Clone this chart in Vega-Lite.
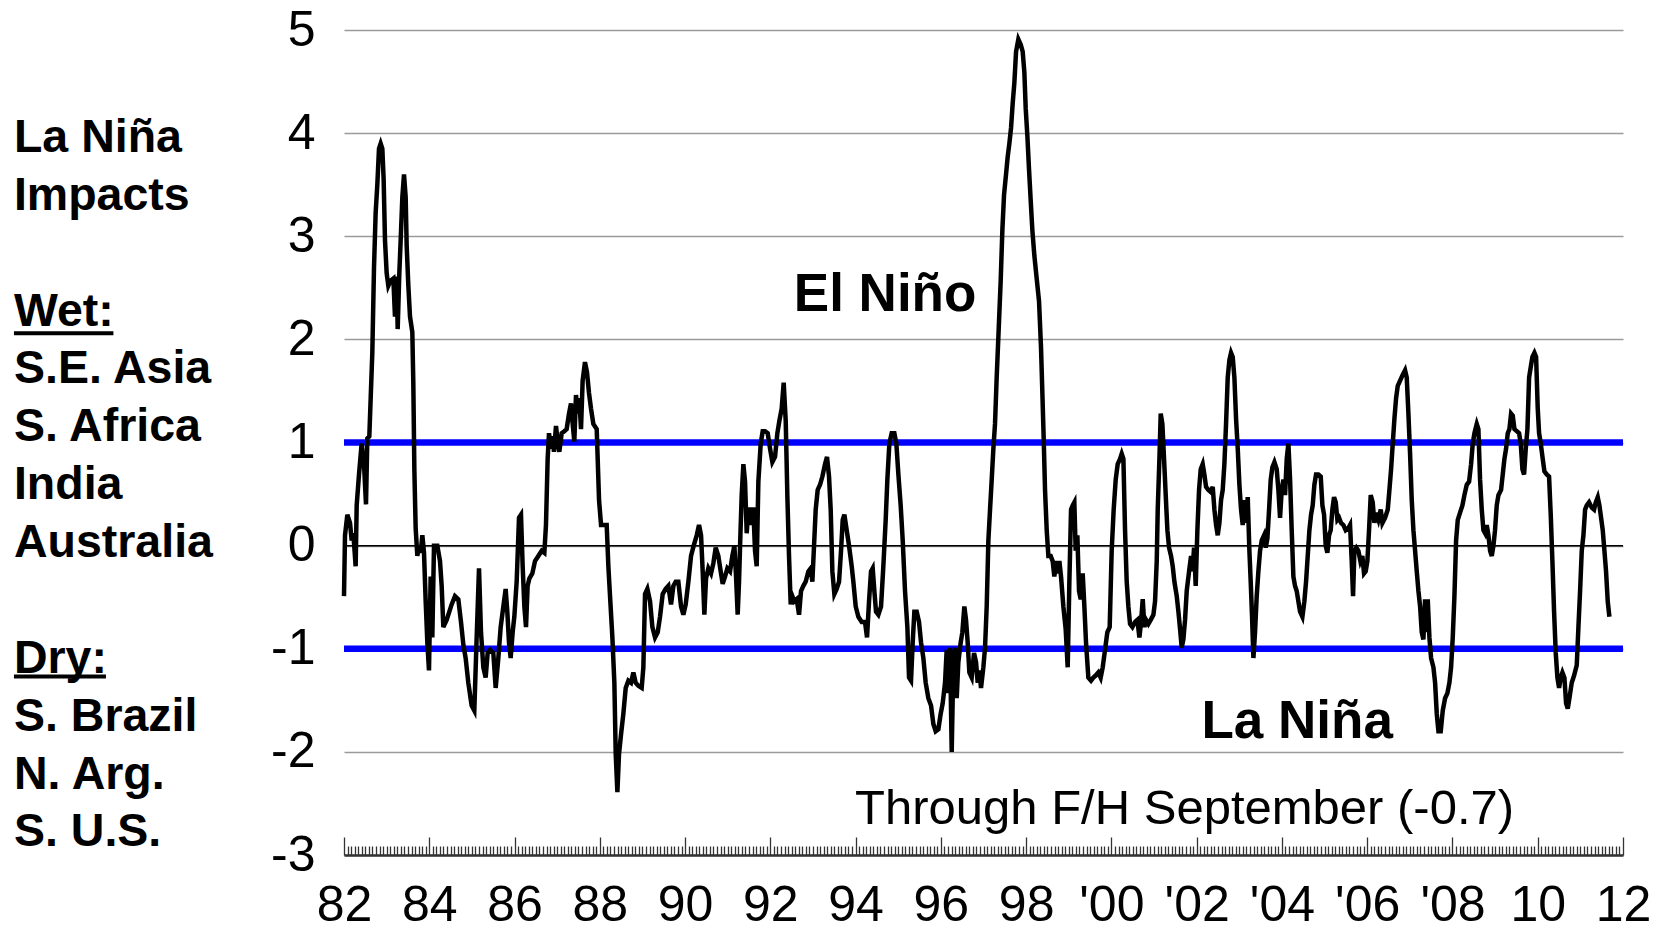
{
  "$schema": "https://vega.github.io/schema/vega-lite/v6.json",
  "width": 1279,
  "height": 825,
  "autosize": {"type": "none"},
  "padding": {"left": 344, "top": 30, "right": 36, "bottom": 73},
  "background": "white",
  "config": {"view": {"stroke": null}, "font": "Liberation Sans"},
  "datasets": {
    "series": [
      {"m":0,"v":-0.49},{"m":0.28,"v":0.1},{"m":0.94,"v":0.3},{"m":1.69,"v":0.22},{"m":2.16,"v":0.05},{"m":2.63,"v":0.12},{"m":3.28,"v":-0.2},{"m":3.57,"v":0.39},{"m":4.22,"v":0.69},{"m":4.97,"v":0.99},{"m":5.63,"v":0.79},{"m":6.19,"v":0.4},{"m":6.57,"v":1.04},{"m":7.13,"v":1.06},{"m":7.51,"v":1.43},{"m":7.97,"v":1.87},{"m":8.44,"v":2.69},{"m":8.91,"v":3.23},{"m":9.38,"v":3.5},{"m":9.85,"v":3.85},{"m":10.32,"v":3.9},{"m":10.79,"v":3.85},{"m":11.16,"v":3.55},{"m":11.54,"v":2.96},{"m":12.01,"v":2.64},{"m":12.48,"v":2.52},{"m":13.13,"v":2.57},{"m":13.89,"v":2.59},{"m":14.35,"v":2.22},{"m":14.82,"v":2.61},{"m":15.11,"v":2.1},{"m":15.57,"v":2.64},{"m":15.95,"v":2.96},{"m":16.42,"v":3.38},{"m":16.89,"v":3.6},{"m":17.36,"v":3.38},{"m":17.64,"v":2.91},{"m":18.11,"v":2.52},{"m":18.58,"v":2.22},{"m":19.23,"v":2.07},{"m":19.51,"v":1.58},{"m":19.8,"v":0.74},{"m":20.17,"v":0.17},{"m":20.64,"v":-0.1},{"m":21.11,"v":0},{"m":21.58,"v":-0.07},{"m":22.05,"v":0.1},{"m":22.52,"v":-0.07},{"m":22.99,"v":-0.54},{"m":23.46,"v":-0.94},{"m":23.92,"v":-1.21},{"m":24.39,"v":-0.3},{"m":24.86,"v":-0.89},{"m":25.33,"v":0},{"m":26.27,"v":0},{"m":27.02,"v":-0.15},{"m":27.49,"v":-0.39},{"m":27.96,"v":-0.79},{"m":28.9,"v":-0.72},{"m":30.3,"v":-0.57},{"m":31.24,"v":-0.49},{"m":32.18,"v":-0.52},{"m":32.93,"v":-0.74},{"m":33.59,"v":-0.96},{"m":34.24,"v":-1.09},{"m":34.99,"v":-1.33},{"m":35.93,"v":-1.55},{"m":36.68,"v":-1.6},{"m":37.34,"v":-0.89},{"m":38.0,"v":-0.22},{"m":38.56,"v":-0.84},{"m":39.22,"v":-1.18},{"m":39.87,"v":-1.28},{"m":40.44,"v":-1.04},{"m":41.09,"v":-1.01},{"m":42.03,"v":-1.04},{"m":42.69,"v":-1.38},{"m":43.44,"v":-1.09},{"m":44.1,"v":-0.79},{"m":44.85,"v":-0.59},{"m":45.5,"v":-0.42},{"m":45.97,"v":-0.64},{"m":46.44,"v":-0.94},{"m":46.91,"v":-1.09},{"m":47.47,"v":-0.84},{"m":47.94,"v":-0.69},{"m":48.6,"v":-0.35},{"m":49.26,"v":0.27},{"m":49.82,"v":0.3},{"m":50.29,"v":-0.2},{"m":50.76,"v":-0.59},{"m":51.23,"v":-0.79},{"m":51.69,"v":-0.39},{"m":52.16,"v":-0.32},{"m":53.01,"v":-0.27},{"m":53.76,"v":-0.15},{"m":54.7,"v":-0.1},{"m":55.64,"v":-0.05},{"m":56.39,"v":-0.07},{"m":56.85,"v":0.2},{"m":57.32,"v":0.84},{"m":57.7,"v":1.09},{"m":58.26,"v":0.94},{"m":58.64,"v":1.06},{"m":59.11,"v":0.91},{"m":59.67,"v":1.16},{"m":60.14,"v":1.01},{"m":60.61,"v":0.91},{"m":61.27,"v":1.09},{"m":62.02,"v":1.11},{"m":62.67,"v":1.13},{"m":63.33,"v":1.28},{"m":63.89,"v":1.38},{"m":64.36,"v":1.18},{"m":64.83,"v":1.01},{"m":65.3,"v":1.46},{"m":65.77,"v":1.28},{"m":66.24,"v":1.43},{"m":66.71,"v":1.13},{"m":67.17,"v":1.6},{"m":67.83,"v":1.78},{"m":68.4,"v":1.68},{"m":68.96,"v":1.48},{"m":69.52,"v":1.33},{"m":70.18,"v":1.18},
      {"m":71.13,"v":1.13},{"m":71.79,"v":0.44},{"m":72.35,"v":0.2},{"m":73.94,"v":0.2},{"m":74.41,"v":-0.2},{"m":74.88,"v":-0.49},{"m":75.54,"v":-0.89},{"m":76.1,"v":-1.33},{"m":76.48,"v":-2.02},{"m":76.95,"v":-2.39},{"m":77.41,"v":-2.02},{"m":77.98,"v":-1.83},{"m":78.63,"v":-1.63},{"m":79.29,"v":-1.38},{"m":80.04,"v":-1.31},{"m":80.79,"v":-1.33},{"m":81.45,"v":-1.23},{"m":82.1,"v":-1.33},{"m":82.86,"v":-1.36},{"m":83.79,"v":-1.38},{"m":84.26,"v":-1.18},{"m":84.73,"v":-0.47},{"m":85.39,"v":-0.42},{"m":86.14,"v":-0.54},{"m":86.8,"v":-0.79},{"m":87.55,"v":-0.89},{"m":88.3,"v":-0.84},{"m":88.95,"v":-0.69},{"m":89.7,"v":-0.47},{"m":90.55,"v":-0.42},{"m":91.3,"v":-0.39},{"m":92.05,"v":-0.57},{"m":92.71,"v":-0.39},{"m":93.36,"v":-0.35},{"m":94.11,"v":-0.35},{"m":94.87,"v":-0.59},{"m":95.52,"v":-0.67},{"m":96.18,"v":-0.57},{"m":96.93,"v":-0.35},{"m":97.68,"v":-0.1},{"m":98.43,"v":0},{"m":99.28,"v":0.1},{"m":99.93,"v":0.2},{"m":100.5,"v":0.1},{"m":100.96,"v":-0.25},{"m":101.43,"v":-0.67},{"m":101.9,"v":-0.32},{"m":102.56,"v":-0.22},{"m":103.31,"v":-0.27},{"m":103.97,"v":-0.17},{"m":104.62,"v":-0.02},{"m":105.37,"v":-0.1},{"m":106.03,"v":-0.25},{"m":106.59,"v":-0.37},{"m":107.25,"v":-0.3},{"m":107.91,"v":-0.22},{"m":108.66,"v":-0.25},{"m":109.31,"v":-0.1},{"m":109.88,"v":0},{"m":110.35,"v":-0.3},{"m":110.81,"v":-0.67},{"m":111.19,"v":-0.35},{"m":111.57,"v":0.1},{"m":111.94,"v":0.49},{"m":112.41,"v":0.79},{"m":112.88,"v":0.62},{"m":113.35,"v":0.12},{"m":113.82,"v":0.37},{"m":114.29,"v":0.2},{"m":114.76,"v":0.35},{"m":115.22,"v":0.35},{"m":115.69,"v":-0.05},{"m":116.16,"v":-0.2},{"m":116.63,"v":0.62},{"m":117.29,"v":0.99},{"m":117.85,"v":1.11},{"m":118.51,"v":1.11},{"m":119.26,"v":1.09},{"m":119.92,"v":0.94},{"m":120.57,"v":0.81},{"m":121.32,"v":0.86},{"m":121.98,"v":1.09},{"m":122.54,"v":1.21},{"m":123.2,"v":1.33},{"m":123.76,"v":1.58},{"m":124.33,"v":1.21},{"m":124.8,"v":0.47},{"m":125.26,"v":-0.1},{"m":125.73,"v":-0.57},{"m":126.2,"v":-0.49},{"m":126.76,"v":-0.54},{"m":127.42,"v":-0.52},{"m":128.08,"v":-0.67},{"m":128.64,"v":-0.44},{"m":129.3,"v":-0.39},{"m":129.95,"v":-0.35},{"m":130.7,"v":-0.25},{"m":131.36,"v":-0.22},{"m":131.83,"v":-0.35},{"m":132.3,"v":0},{"m":132.77,"v":0.35},{"m":133.33,"v":0.54},{"m":133.99,"v":0.59},{"m":134.65,"v":0.67},{"m":135.4,"v":0.79},{"m":135.96,"v":0.86},{"m":136.52,"v":0.67},{"m":136.99,"v":0.35},{"m":137.46,"v":-0.25},{"m":138.02,"v":-0.47},{"m":138.68,"v":-0.42},{"m":139.34,"v":-0.35},{"m":139.9,"v":-0.05},{"m":140.37,"v":0.25},{"m":140.84,"v":0.3},{"m":141.49,"v":0.15},{"m":142.15,"v":0},{"m":142.9,"v":-0.2},{"m":143.37,"v":-0.35},{"m":144.03,"v":-0.59},{"m":144.78,"v":-0.69},{"m":145.72,"v":-0.74},
      {"m":146.65,"v":-0.74},{"m":147.22,"v":-0.89},{"m":147.78,"v":-0.54},{"m":148.34,"v":-0.25},{"m":148.81,"v":-0.22},{"m":149.28,"v":-0.44},{"m":149.75,"v":-0.64},{"m":150.41,"v":-0.67},{"m":151.16,"v":-0.59},{"m":151.81,"v":-0.2},{"m":152.47,"v":0.25},{"m":152.94,"v":0.64},{"m":153.5,"v":0.99},{"m":154.16,"v":1.09},{"m":154.91,"v":1.09},{"m":155.47,"v":0.99},{"m":156.04,"v":0.69},{"m":156.69,"v":0.39},{"m":157.26,"v":0.05},{"m":157.91,"v":-0.44},{"m":158.57,"v":-0.79},{"m":159.04,"v":-1.28},{"m":159.6,"v":-1.31},{"m":160.07,"v":-0.94},{"m":160.54,"v":-0.64},{"m":161.2,"v":-0.64},{"m":161.85,"v":-0.74},{"m":162.42,"v":-0.94},{"m":163.07,"v":-1.09},{"m":163.73,"v":-1.33},{"m":164.48,"v":-1.48},{"m":165.23,"v":-1.55},{"m":165.89,"v":-1.73},{"m":166.54,"v":-1.8},{"m":167.3,"v":-1.78},{"m":167.95,"v":-1.63},{"m":168.51,"v":-1.53},{"m":169.17,"v":-1.33},{"m":169.64,"v":-1.01},{"m":170.11,"v":-1.43},{"m":170.58,"v":-0.99},{"m":171.05,"v":-2.0},{"m":171.52,"v":-1.13},{"m":171.99,"v":-0.99},{"m":172.46,"v":-1.48},{"m":172.92,"v":-1.13},{"m":173.58,"v":-0.94},{"m":174.05,"v":-0.84},{"m":174.61,"v":-0.59},{"m":175.08,"v":-0.72},{"m":175.55,"v":-0.94},{"m":176.02,"v":-1.23},{"m":176.68,"v":-1.28},{"m":177.33,"v":-1.04},{"m":177.9,"v":-1.13},{"m":178.37,"v":-1.33},{"m":178.84,"v":-1.21},{"m":179.3,"v":-1.38},{"m":179.96,"v":-1.18},{"m":180.43,"v":-0.99},{"m":180.9,"v":-0.59},{"m":181.37,"v":0.05},{"m":181.84,"v":0.35},{"m":182.31,"v":0.64},{"m":182.78,"v":0.94},{"m":183.24,"v":1.18},{"m":183.71,"v":1.63},{"m":184.18,"v":2.02},{"m":184.84,"v":2.57},{"m":185.31,"v":3.06},{"m":185.78,"v":3.4},{"m":186.34,"v":3.6},{"m":186.81,"v":3.77},{"m":187.28,"v":3.9},{"m":187.75,"v":4.05},{"m":188.22,"v":4.29},{"m":188.69,"v":4.49},{"m":189.16,"v":4.79},{"m":189.81,"v":4.91},{"m":190.47,"v":4.86},{"m":191.03,"v":4.79},{"m":191.5,"v":4.59},{"m":191.88,"v":4.24},{"m":192.35,"v":3.97},{"m":192.81,"v":3.65},{"m":193.28,"v":3.35},{"m":193.75,"v":3.06},{"m":194.32,"v":2.81},{"m":194.97,"v":2.59},{"m":195.63,"v":2.37},{"m":196.19,"v":1.92},{"m":196.57,"v":1.48},{"m":196.94,"v":1.04},{"m":197.32,"v":0.54},{"m":197.79,"v":0.15},{"m":198.26,"v":-0.1},{"m":198.91,"v":-0.1},{"m":199.47,"v":-0.15},{"m":199.94,"v":-0.3},{"m":200.41,"v":-0.15},{"m":200.88,"v":-0.27},{"m":201.35,"v":-0.15},{"m":201.82,"v":-0.3},{"m":202.48,"v":-0.59},{"m":203.13,"v":-0.81},{"m":203.7,"v":-1.18},{"m":204.17,"v":-0.35},{"m":204.64,"v":0.35},{"m":205.1,"v":0.39},{"m":205.57,"v":0.42},{"m":205.95,"v":-0.05},{"m":206.42,"v":0.1},{"m":206.89,"v":-0.44},{"m":207.36,"v":-0.52},{"m":207.92,"v":-0.27},{"m":208.39,"v":-0.59},{"m":208.86,"v":-0.94},{"m":209.51,"v":-1.28},{"m":210.26,"v":-1.31},{"m":210.92,"v":-1.28},{"m":211.58,"v":-1.26},{"m":212.33,"v":-1.23},{"m":212.98,"v":-1.28},{"m":213.55,"v":-1.18},{"m":214.21,"v":-1.01},{"m":214.86,"v":-0.84},{"m":215.52,"v":-0.79},{"m":216.08,"v":-0.05},{"m":216.64,"v":0.35},{"m":217.21,"v":0.64},{"m":217.77,"v":0.79},{"m":218.43,"v":0.84},{"m":218.9,"v":0.89},
      {"m":219.38,"v":0.84},{"m":219.84,"v":0.15},{"m":220.31,"v":-0.35},{"m":220.78,"v":-0.59},{"m":221.25,"v":-0.76},{"m":221.91,"v":-0.79},{"m":222.66,"v":-0.74},{"m":223.32,"v":-0.72},{"m":223.88,"v":-0.89},{"m":224.35,"v":-0.74},{"m":224.82,"v":-0.52},{"m":225.29,"v":-0.79},{"m":225.76,"v":-0.72},{"m":226.41,"v":-0.76},{"m":227.07,"v":-0.72},{"m":227.82,"v":-0.67},{"m":228.29,"v":-0.54},{"m":228.76,"v":-0.15},{"m":229.04,"v":0.35},{"m":229.51,"v":0.84},{"m":229.88,"v":1.28},{"m":230.35,"v":1.18},{"m":230.82,"v":0.84},{"m":231.29,"v":0.49},{"m":231.76,"v":0.15},{"m":232.23,"v":-0.02},{"m":232.79,"v":-0.1},{"m":233.26,"v":-0.2},{"m":233.73,"v":-0.35},{"m":234.39,"v":-0.49},{"m":234.86,"v":-0.64},{"m":235.33,"v":-0.81},{"m":235.79,"v":-0.99},{"m":236.26,"v":-0.91},{"m":236.73,"v":-0.72},{"m":237.2,"v":-0.44},{"m":237.86,"v":-0.25},{"m":238.42,"v":-0.1},{"m":238.8,"v":-0.25},{"m":239.27,"v":-0.02},{"m":239.73,"v":-0.39},{"m":240.2,"v":0.15},{"m":240.67,"v":0.54},{"m":241.14,"v":0.74},{"m":241.7,"v":0.79},{"m":242.17,"v":0.69},{"m":242.64,"v":0.57},{"m":243.3,"v":0.54},{"m":243.96,"v":0.52},{"m":244.52,"v":0.57},{"m":244.99,"v":0.35},{"m":245.46,"v":0.2},{"m":245.93,"v":0.1},{"m":246.4,"v":0.22},{"m":246.86,"v":0.44},{"m":247.33,"v":0.54},{"m":247.8,"v":0.79},{"m":248.27,"v":1.18},{"m":248.74,"v":1.63},{"m":249.21,"v":1.8},{"m":249.68,"v":1.87},{"m":250.15,"v":1.83},{"m":250.62,"v":1.63},{"m":251.09,"v":1.23},{"m":251.56,"v":0.94},{"m":252.03,"v":0.59},{"m":252.49,"v":0.35},{"m":252.96,"v":0.2},{"m":253.43,"v":0.44},{"m":253.9,"v":0.22},{"m":254.37,"v":0.47},{"m":254.84,"v":-0.05},{"m":255.21,"v":-0.35},{"m":255.59,"v":-0.69},{"m":255.97,"v":-1.09},{"m":256.43,"v":-0.84},{"m":256.9,"v":-0.49},{"m":257.37,"v":-0.25},{"m":257.84,"v":-0.05},{"m":258.31,"v":0.05},{"m":258.97,"v":0.1},{"m":259.44,"v":-0.02},{"m":259.91,"v":0.07},{"m":260.38,"v":0.35},{"m":260.84,"v":0.64},{"m":261.31,"v":0.76},{"m":261.88,"v":0.81},{"m":262.53,"v":0.74},{"m":263.0,"v":0.54},{"m":263.47,"v":0.27},{"m":263.94,"v":0.54},{"m":264.41,"v":0.64},{"m":264.88,"v":0.49},{"m":265.35,"v":0.84},{"m":265.82,"v":0.99},{"m":266.29,"v":0.64},{"m":266.75,"v":0.15},{"m":267.22,"v":-0.3},{"m":267.69,"v":-0.39},{"m":268.16,"v":-0.44},{"m":268.63,"v":-0.54},{"m":269.1,"v":-0.64},{"m":269.76,"v":-0.69},{"m":270.32,"v":-0.54},{"m":270.79,"v":-0.35},{"m":271.26,"v":-0.1},{"m":271.73,"v":0.15},{"m":272.2,"v":0.3},{"m":272.66,"v":0.39},{"m":273.13,"v":0.59},{"m":273.6,"v":0.69},{"m":274.26,"v":0.69},{"m":274.92,"v":0.67},{"m":275.39,"v":0.39},{"m":275.86,"v":0.3},{"m":276.32,"v":0},{"m":276.79,"v":-0.07},{"m":277.26,"v":0.1},{"m":277.73,"v":0.15},{"m":278.2,"v":0.35},{"m":278.67,"v":0.47},{"m":279.14,"v":0.42},{"m":279.61,"v":0.25},{"m":280.08,"v":0.27},{"m":280.64,"v":0.22},{"m":281.3,"v":0.2},{"m":281.95,"v":0.15},{"m":282.7,"v":0.17},{"m":283.17,"v":0.2},{"m":283.64,"v":-0.15},{"m":284.02,"v":-0.49},{"m":284.39,"v":-0.05},{"m":284.95,"v":-0.02},{"m":285.52,"v":-0.05},{"m":286.08,"v":-0.15},{"m":286.64,"v":-0.1},{"m":287.11,"v":-0.27},{"m":287.58,"v":-0.25},{"m":288.05,"v":-0.15},{"m":288.52,"v":0.15},{"m":288.99,"v":0.49},{"m":289.55,"v":0.42},{"m":290.02,"v":0.22},{"m":290.49,"v":0.32},{"m":291.15,"v":0.25},{"m":291.81,"v":0.35},
      {"m":292.28,"v":0.22},{"m":293.03,"v":0.27},{"m":293.79,"v":0.35},{"m":294.25,"v":0.54},{"m":294.72,"v":0.74},{"m":295.19,"v":0.99},{"m":295.66,"v":1.23},{"m":296.13,"v":1.43},{"m":296.6,"v":1.55},{"m":297.26,"v":1.6},{"m":297.91,"v":1.65},{"m":298.66,"v":1.7},{"m":299.13,"v":1.63},{"m":299.6,"v":1.28},{"m":300.07,"v":0.89},{"m":300.54,"v":0.44},{"m":301.01,"v":0.15},{"m":301.48,"v":-0.05},{"m":301.95,"v":-0.25},{"m":302.42,"v":-0.44},{"m":302.89,"v":-0.59},{"m":303.35,"v":-0.84},{"m":303.82,"v":-0.91},{"m":304.29,"v":-0.52},{"m":304.76,"v":-0.84},{"m":305.04,"v":-0.52},{"m":305.51,"v":-0.89},{"m":305.98,"v":-1.09},{"m":306.64,"v":-1.18},{"m":307.11,"v":-1.33},{"m":307.58,"v":-1.63},{"m":308.05,"v":-1.8},{"m":308.7,"v":-1.8},{"m":309.27,"v":-1.6},{"m":309.92,"v":-1.48},{"m":310.58,"v":-1.43},{"m":311.14,"v":-1.33},{"m":311.61,"v":-1.18},{"m":312.08,"v":-0.89},{"m":312.55,"v":-0.49},{"m":313.02,"v":0.05},{"m":313.49,"v":0.25},{"m":314.14,"v":0.32},{"m":314.8,"v":0.39},{"m":315.36,"v":0.49},{"m":316.02,"v":0.59},{"m":316.68,"v":0.62},{"m":317.24,"v":0.79},{"m":317.71,"v":0.99},{"m":318.18,"v":1.09},{"m":318.84,"v":1.18},{"m":319.3,"v":1.13},{"m":319.77,"v":0.64},{"m":320.24,"v":0.35},{"m":320.71,"v":0.15},{"m":321.18,"v":0.12},{"m":321.65,"v":0.2},{"m":322.12,"v":0.1},{"m":322.59,"v":-0.05},{"m":323.06,"v":-0.1},{"m":323.53,"v":0},{"m":323.98,"v":0.15},{"m":324.46,"v":0.39},{"m":324.93,"v":0.49},{"m":325.68,"v":0.54},{"m":326.15,"v":0.69},{"m":326.62,"v":0.84},{"m":327.09,"v":0.94},{"m":327.56,"v":1.09},{"m":328.03,"v":1.13},{"m":328.5,"v":1.28},{"m":328.97,"v":1.26},{"m":329.44,"v":1.13},{"m":330.09,"v":1.11},{"m":330.75,"v":1.09},{"m":331.22,"v":0.99},{"m":331.69,"v":0.74},{"m":332.16,"v":0.69},{"m":332.63,"v":0.94},{"m":333.1,"v":1.13},{"m":333.57,"v":1.63},{"m":334.03,"v":1.73},{"m":334.5,"v":1.83},{"m":335.07,"v":1.87},{"m":335.54,"v":1.83},{"m":336.0,"v":1.33},{"m":336.38,"v":1.09},{"m":336.85,"v":0.99},{"m":337.41,"v":0.84},{"m":337.88,"v":0.72},{"m":338.54,"v":0.69},{"m":339.19,"v":0.67},{"m":339.66,"v":0.3},{"m":340.13,"v":-0.15},{"m":340.6,"v":-0.64},{"m":341.07,"v":-1.04},{"m":341.54,"v":-1.28},{"m":342.01,"v":-1.38},{"m":342.48,"v":-1.28},{"m":342.95,"v":-1.23},{"m":343.51,"v":-1.28},{"m":343.98,"v":-1.53},{"m":344.45,"v":-1.58},{"m":344.92,"v":-1.48},{"m":345.57,"v":-1.33},{"m":346.23,"v":-1.26},{"m":346.98,"v":-1.16},{"m":347.45,"v":-0.79},{"m":347.92,"v":-0.44},{"m":348.39,"v":-0.05},{"m":348.86,"v":0.1},{"m":349.33,"v":0.35},{"m":349.8,"v":0.39},{"m":350.45,"v":0.42},{"m":351.2,"v":0.37},{"m":351.86,"v":0.35},{"m":352.33,"v":0.42},{"m":352.89,"v":0.47},{"m":353.36,"v":0.39},{"m":353.83,"v":0.27},{"m":354.3,"v":0.15},{"m":354.77,"v":-0.05},{"m":355.23,"v":-0.25},{"m":355.7,"v":-0.54},{"m":356.17,"v":-0.69}
    ],
    "levels": [{"level": 1}, {"level": -1}],
    "zero": [{"level": 0}],
    "labels": [
      {"m": 152.3, "v": 2.43, "text": "El Niño"},
      {"m": 268.3, "v": -1.71, "text": "La Niña"}
    ],
    "note": [{"m": 236.6, "v": -2.55, "text": "Through F/H September (-0.7)"}],
    "side": [
      {"m": -92.9, "v": 3.95, "text": "La Niña"},
      {"m": -92.9, "v": 3.39, "text": "Impacts"},
      {"m": -92.9, "v": 2.27, "text": "Wet:"},
      {"m": -92.9, "v": 1.71, "text": "S.E. Asia"},
      {"m": -92.9, "v": 1.15, "text": "S. Africa"},
      {"m": -92.9, "v": 0.59, "text": "India"},
      {"m": -92.9, "v": 0.03, "text": "Australia"},
      {"m": -92.9, "v": -1.1, "text": "Dry:"},
      {"m": -92.9, "v": -1.66, "text": "S. Brazil"},
      {"m": -92.9, "v": -2.22, "text": "N. Arg."},
      {"m": -92.9, "v": -2.78, "text": "S. U.S."}
    ],
    "underline": [
      {"m": -92.9, "m2": -64.9, "v": 2.06},
      {"m": -92.9, "m2": -67.0, "v": -1.27}
    ]
  },
  "layer": [
    {
      "data": {"name": "zero"},
      "mark": {"type": "rule", "color": "black", "strokeWidth": 1.5},
      "encoding": {"y": {"field": "level", "type": "quantitative"}}
    },
    {
      "data": {"name": "levels"},
      "mark": {"type": "rule", "color": "#0000ff", "strokeWidth": 6.5},
      "encoding": {"y": {"field": "level", "type": "quantitative"}}
    },
    {
      "data": {"name": "series"},
      "mark": {"type": "line", "color": "black", "strokeWidth": 4.5, "strokeJoin": "miter"},
      "encoding": {
        "x": {
          "field": "m", "type": "quantitative",
          "scale": {"domain": [0, 360], "nice": false, "zero": false},
          "axis": {
            "title": null,
            "tickCount": 360,
            "grid": false,
            "domainColor": "#333333",
            "domainWidth": 2.5,
            "tickColor": "#333333",
            "tickWidth": 1.3,
            "tickSize": {"condition": {"test": "datum.value % 24 === 0", "value": -18}, "value": -9},
            "labelExpr": "datum.value % 24 === 0 ? ((datum.value >= 216 && datum.value < 336) ? \"'\" : '') + format((floor(datum.value / 12) + 82) % 100, '02d') : ''",
            "labelOverlap": false,
            "labelFlush": false,
            "labelBound": false,
            "labelFont": "Liberation Sans",
            "labelFontSize": 50,
            "labelColor": "black",
            "labelPadding": 43
          }
        },
        "y": {
          "field": "v", "type": "quantitative",
          "scale": {"domain": [-3, 5], "nice": false, "zero": false},
          "axis": {
            "title": null,
            "values": [-3, -2, -1, 0, 1, 2, 3, 4, 5],
            "labelExpr": "datum.value < 0 ? '-' + abs(datum.value) : '' + datum.value",
            "grid": true,
            "gridColor": "#9a9a9a",
            "gridWidth": 1.5,
            "ticks": false,
            "domain": false,
            "labelFont": "Liberation Sans",
            "labelFontSize": 50,
            "labelColor": "black",
            "labelPadding": 29
          }
        }
      }
    },
    {
      "data": {"name": "labels"},
      "mark": {"type": "text", "font": "Liberation Sans", "fontWeight": "bold", "fontSize": 53, "color": "black", "align": "center", "baseline": "middle"},
      "encoding": {
        "x": {"field": "m", "type": "quantitative"},
        "y": {"field": "v", "type": "quantitative"},
        "text": {"field": "text"}
      }
    },
    {
      "data": {"name": "note"},
      "mark": {"type": "text", "font": "Liberation Sans", "fontSize": 49, "color": "black", "align": "center", "baseline": "middle"},
      "encoding": {
        "x": {"field": "m", "type": "quantitative"},
        "y": {"field": "v", "type": "quantitative"},
        "text": {"field": "text"}
      }
    },
    {
      "data": {"name": "side"},
      "mark": {"type": "text", "font": "Liberation Sans", "fontWeight": "bold", "fontSize": 46.5, "color": "black", "align": "left", "baseline": "middle"},
      "encoding": {
        "x": {"field": "m", "type": "quantitative"},
        "y": {"field": "v", "type": "quantitative"},
        "text": {"field": "text"}
      }
    },
    {
      "data": {"name": "underline"},
      "mark": {"type": "rule", "color": "black", "strokeWidth": 4},
      "encoding": {
        "x": {"field": "m", "type": "quantitative"},
        "x2": {"field": "m2"},
        "y": {"field": "v", "type": "quantitative"}
      }
    }
  ]
}
